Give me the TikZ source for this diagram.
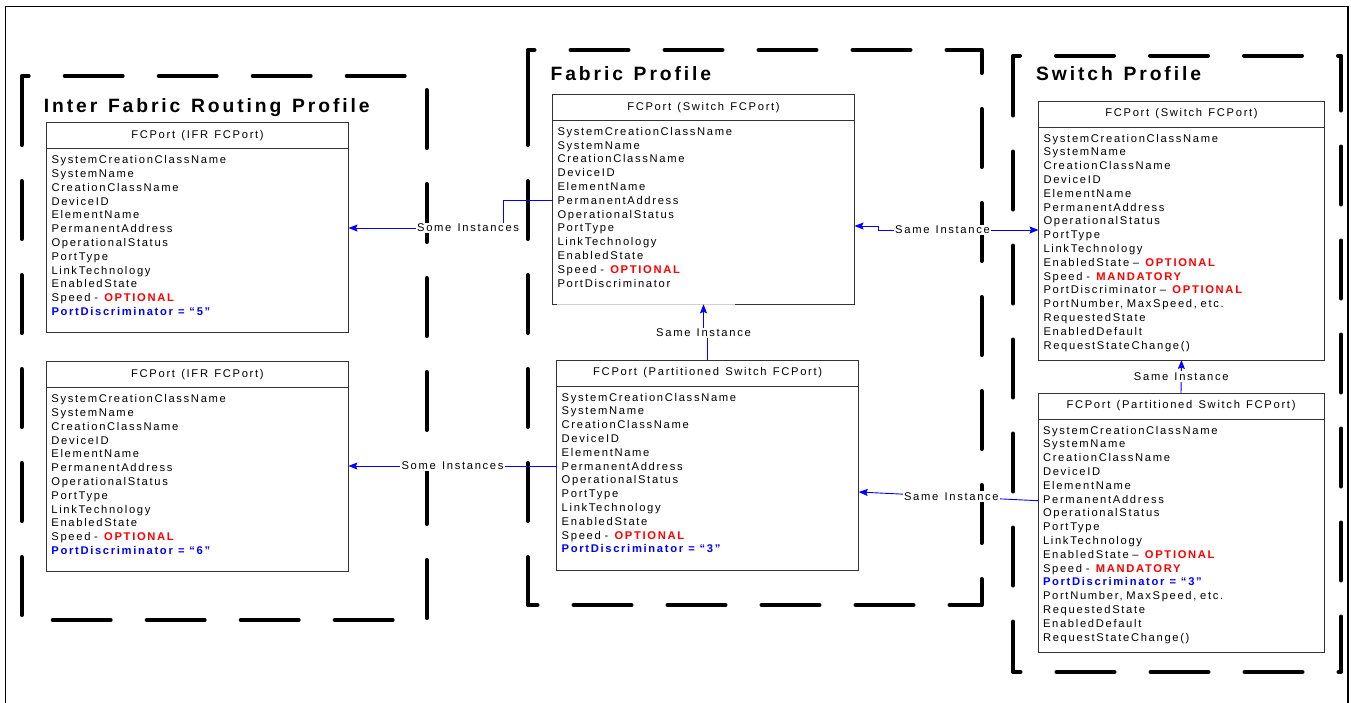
\documentclass[tikz,border=0pt]{standalone}
\usepackage{fontspec}
\usepackage{xcolor}
\usepackage{tikz}
\usetikzlibrary{arrows.meta, positioning}
\newfontfamily\dgfont[LetterSpace=15, WordSpace=1.3]{Liberation Sans}
\definecolor{linkblue}{RGB}{0,0,255}
\definecolor{reqred}{RGB}{255,0,0}
\newcommand{\bodyfont}{\fontsize{11.2}{13.8}\selectfont\dgfont}
\newcommand{\opt}[1]{\kern2.5pt\textcolor{reqred}{\bfseries #1}}
\newcommand{\disc}[1]{\textcolor{linkblue}{\bfseries PortDiscriminator\kern1.5pt{} = \kern1pt“#1”}}
\newcommand{\portprops}{SystemCreationClassName\\SystemName\\CreationClassName\\DeviceID\\
  ElementName\\PermanentAddress\\OperationalStatus\\PortType\\LinkTechnology}

\begin{document}
\begin{tikzpicture}[x=1pt, y=-1pt,
  profile/.style={draw=none, inner sep=0pt, outer sep=0pt, anchor=north west},
  pside/.style={line width=4pt, line cap=round, line join=round, dash pattern=on 58pt off 36pt},
  title/.style={anchor=base west, inner sep=0pt, font=\fontsize{19.3}{23}\selectfont\dgfont\bfseries},
  hdr/.style={draw=black!80, line width=0.9pt, anchor=north west, minimum height=26pt,
              inner sep=0pt, outer sep=0pt, font=\bodyfont},
  cls/.style={draw=black!80, line width=0.9pt, align=left, inner xsep=5pt, inner ysep=0pt,
              outer sep=0pt, text height=15pt, font=\bodyfont},
  link/.style={draw=linkblue, line width=0.9pt, -{Stealth[length=9pt, width=7pt, inset=1.5pt]}},
  lbl/.style={fill=white, inner sep=1.5pt, font=\bodyfont}]
  \useasboundingbox (0,0) rectangle (1351,702);
  \draw[line width=1.8pt] (5.5,6.5) rectangle (1348,712);

  % profile frames
  \node[profile, minimum width=405pt, minimum height=544pt] (ifr) at (21.7,76) {};
  \node[profile, minimum width=454pt, minimum height=555pt] (fab) at (527.5,50) {};
  \node[profile, minimum width=328pt, minimum height=616.5pt] (sw) at (1013,55.5) {};
  \foreach \f in {ifr,fab,sw}
    \draw[pside] ([yshift=-51pt]\f.north west) -- (\f.north west) -- (\f.north east)
      -- (\f.south east) -- (\f.south west) -- cycle;
  \node[title] (ifrT) at (43.7,112.7) {Inter Fabric Routing Profile};
  \node[title] (fabT) at (550.4,80) {Fabric Profile};
  \node[title] (swT) at (1036,80) {Switch Profile};

  % inter fabric routing ports
  \node[hdr, minimum width=302pt] (ifrAh) at (46.5,122.7) {FCPort (IFR FCPort)};
  \node[cls, text width=292pt, text depth=169pt, below=0pt of ifrAh] (ifrA)
    {\portprops\\EnabledState\\Speed - \opt{OPTIONAL}\\\disc{5}};
  \node[hdr, minimum width=302pt] (ifrBh) at (46.4,361.7) {FCPort (IFR FCPort)};
  \node[cls, text width=292pt, text depth=169pt, below=0pt of ifrBh] (ifrB)
    {\portprops\\EnabledState\\Speed - \opt{OPTIONAL}\\\disc{6}};

  % fabric ports
  \node[hdr, minimum width=302pt] (fabAh) at (552.5,94.3) {FCPort (Switch FCPort)};
  \node[cls, text width=292pt, text depth=169pt, below=0pt of fabAh] (fabA)
    {\portprops\\EnabledState\\Speed - \opt{OPTIONAL}\\PortDiscriminator};
  \draw[black!18, line width=1.1pt] ([xshift=4.5pt]fabA.south west) -- ([xshift=182pt]fabA.south west);
  \node[hdr, minimum width=302pt] (fabBh) at (556.7,360) {FCPort (Partitioned Switch FCPort)};
  \node[cls, text width=292pt, text depth=169pt, below=0pt of fabBh] (fabB)
    {\portprops\\EnabledState\\Speed - \opt{OPTIONAL}\\\disc{3}};

  % switch ports
  \node[hdr, minimum width=286pt] (swAh) at (1038.5,101) {FCPort (Switch FCPort)};
  \node[cls, text width=276pt, text depth=218pt, below=0pt of swAh] (swA)
    {\portprops\\EnabledState – \opt{OPTIONAL}\\Speed - \opt{MANDATORY}\\
     PortDiscriminator – \opt{OPTIONAL}\\PortNumber, MaxSpeed, etc.\\RequestedState\\
     EnabledDefault\\RequestStateChange()};
  \node[hdr, minimum width=286pt] (swBh) at (1038,393) {FCPort (Partitioned Switch FCPort)};
  \node[cls, text width=276pt, text depth=218pt, below=0pt of swBh] (swB)
    {\portprops\\EnabledState – \opt{OPTIONAL}\\Speed - \opt{MANDATORY}\\
     \disc{3}\\PortNumber, MaxSpeed, etc.\\RequestedState\\
     EnabledDefault\\RequestStateChange()};

  % instance links
  \draw[link] (fabA.west |- 0,200) -- ++(-49.5,0)
    |- node[lbl, pos=0.613] {Some Instances} (ifrA.east |- 0,228);
  \draw[link] (fabB.west |- 0,466) -- node[lbl, pos=0.5] {Some Instances} (ifrB.east |- 0,466);
  \draw[link, {Stealth[length=9pt, width=7pt, inset=1.5pt]}-{Stealth[length=9pt, width=7pt, inset=1.5pt]}]
    (fabA.east |- 0,226) -- ++(24,0) |- node[lbl, pos=0.7] {Same Instance} (swA.west |- 0,230);
  \draw[link] (fabBh.north) -- ++(0,-27) -| node[lbl, pos=0.5] {Same Instance} (fabA.south);
  \draw[link] (swBh.north) -- node[lbl] {Same Instance} (swA.south);
  \draw[link] (swB.west |- 0,500.7) -- node[lbl, pos=0.483] {Same Instance} (fabB.east |- 0,492);
\end{tikzpicture}
\end{document}
